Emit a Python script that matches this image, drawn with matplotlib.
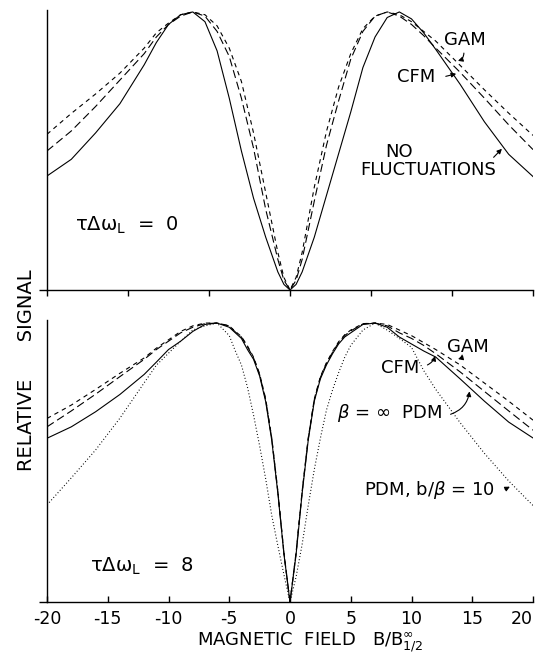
import numpy as np
import matplotlib.pyplot as plt

plt.rcParams['font.family'] = 'DejaVu Sans'
plt.rcParams['mathtext.fontset'] = 'dejavusans'
plt.rcParams['lines.scale_dashes'] = False

# upper panel: tau*dw_L = 0
x_top = [-20, -18, -16, -14, -12, -11, -10, -9, -8, -7, -6, -5, -4, -3, -2, -1, -0.5, 0,
         0.5, 1, 2, 3, 4, 5, 6, 7, 8, 9, 10, 11, 12, 14, 16, 18, 20]
top_nofluct = [0.41, 0.47, 0.565, 0.67, 0.81, 0.89, 0.955, 0.99, 1.0, 0.965, 0.86, 0.69, 0.50, 0.33, 0.19, 0.065, 0.02, 0.0,
               0.02, 0.065, 0.19, 0.34, 0.49, 0.64, 0.80, 0.91, 0.98, 1.0, 0.975, 0.925, 0.865, 0.74, 0.605, 0.488, 0.408]
top_cfm = [0.50, 0.572, 0.66, 0.755, 0.85, 0.91, 0.955, 0.985, 1.0, 0.985, 0.93, 0.84, 0.69, 0.51, 0.29, 0.11, 0.035, 0.0,
           0.035, 0.11, 0.32, 0.52, 0.68, 0.83, 0.93, 0.985, 1.0, 0.985, 0.955, 0.915, 0.87, 0.783, 0.69, 0.594, 0.505]
top_gam = [0.56, 0.635, 0.705, 0.78, 0.87, 0.925, 0.96, 0.99, 1.0, 0.99, 0.95, 0.87, 0.75, 0.565, 0.35, 0.135, 0.045, 0.0,
           0.045, 0.135, 0.37, 0.57, 0.73, 0.85, 0.94, 0.985, 1.0, 0.99, 0.965, 0.93, 0.895, 0.808, 0.72, 0.636, 0.556]

# lower panel: tau*dw_L = 8
x_bot = [-20, -18, -16, -14, -12, -11, -10, -9, -8, -7, -6, -5, -4.5, -4, -3.5, -3, -2.5, -2, -1.5, -1, -0.5, 0,
         0.5, 1, 1.5, 2, 2.5, 3, 3.5, 4, 4.5, 5, 6, 7, 8, 9, 10, 11, 12, 14, 16, 18, 20]
bot_pdm_inf = [0.587, 0.628, 0.682, 0.744, 0.816, 0.86, 0.905, 0.935, 0.97, 0.995, 1.0, 0.985, 0.965, 0.945, 0.905, 0.87, 0.81, 0.718, 0.579, 0.39, 0.172, 0.0,
               0.17, 0.39, 0.58, 0.72, 0.80, 0.85, 0.89, 0.925, 0.95, 0.965, 0.995, 1.0, 0.985, 0.95, 0.925, 0.90, 0.878, 0.80, 0.72, 0.645, 0.588]
bot_cfm = [0.628, 0.685, 0.745, 0.808, 0.87, 0.905, 0.935, 0.965, 0.985, 0.998, 1.0, 0.99, 0.968, 0.95, 0.915, 0.875, 0.815, 0.725, 0.585, 0.395, 0.175, 0.0,
           0.175, 0.395, 0.585, 0.725, 0.805, 0.855, 0.895, 0.93, 0.955, 0.972, 0.997, 1.0, 0.99, 0.965, 0.945, 0.92, 0.89, 0.825, 0.755, 0.685, 0.616]
bot_gam = [0.658, 0.706, 0.762, 0.82, 0.875, 0.91, 0.94, 0.97, 0.99, 1.0, 1.0, 0.99, 0.97, 0.952, 0.918, 0.878, 0.818, 0.728, 0.588, 0.398, 0.178, 0.0,
           0.178, 0.398, 0.588, 0.728, 0.808, 0.858, 0.898, 0.933, 0.958, 0.975, 0.998, 1.0, 0.995, 0.975, 0.955, 0.93, 0.905, 0.85, 0.785, 0.72, 0.652]
bot_pdm_b10 = [0.348, 0.445, 0.545, 0.659, 0.786, 0.849, 0.892, 0.935, 0.975, 0.99, 1.0, 0.955, 0.90, 0.85, 0.77, 0.67, 0.56, 0.441, 0.31, 0.202, 0.098, 0.0,
               0.09, 0.207, 0.346, 0.475, 0.587, 0.688, 0.76, 0.822, 0.877, 0.92, 0.975, 1.0, 0.975, 0.945, 0.913, 0.83, 0.762, 0.643, 0.533, 0.434, 0.346]

top_ticks = np.linspace(-20, 20, 7)
bot_ticks = [-20, -15, -10, -5, 0, 5, 10, 15, 20]
bot_ticklabels = ["-20", "-15", "-10", "-5", "0", "5", "10", "15", "20"]

W, H = 539, 653
fig = plt.figure(figsize=(W / 100, H / 100), dpi=100)
ax1 = fig.add_axes([47 / W, 1 - 290 / H, 486 / W, 280 / H])
ax2 = fig.add_axes([47 / W, 1 - 602 / H, 486 / W, 282 / H])

long_dash = (0, (5.8, 2.9))
short_dash = (0, (3.2, 2.9))
dots = (0, (0.7, 1.6))
lw = 0.8

ax1.plot(x_top, top_nofluct, color='black', lw=lw)
ax1.plot(x_top, top_cfm, color='black', lw=lw, linestyle=long_dash)
ax1.plot(x_top, top_gam, color='black', lw=lw, linestyle=short_dash)

ax2.plot(x_bot, bot_pdm_inf, color='black', lw=lw)
ax2.plot(x_bot, bot_cfm, color='black', lw=lw, linestyle=long_dash)
ax2.plot(x_bot, bot_gam, color='black', lw=lw, linestyle=short_dash)
ax2.plot(x_bot, bot_pdm_b10, color='black', lw=lw, linestyle=dots)

for ax, top in ((ax1, 1.007), (ax2, 1.011)):
    ax.set_xlim(-20, 20)
    ax.set_ylim(0, top)
    ax.spines['top'].set_visible(False)
    ax.spines['right'].set_visible(False)
    ax.spines['left'].set_linewidth(1.0)
    ax.spines['bottom'].set_linewidth(1.0)
    ax.set_yticks([0])
    ax.tick_params(axis='y', direction='out', length=6, width=1.0, labelleft=False)

ax1.set_xticks(top_ticks)
ax1.tick_params(axis='x', direction='out', length=4, width=1.0, labelbottom=False)
ax2.set_xticks(bot_ticks, bot_ticklabels)
ax2.tick_params(axis='x', direction='in', length=4, width=1.0, pad=6, labelsize=12.5)
ax2.get_xticklabels()[-1].set_horizontalalignment('right')

fs = 13
arrow = dict(arrowstyle='-|>', color='black', lw=0.8, mutation_scale=7)

# upper labels
ax1.text(14.4, 0.90, "GAM", fontsize=fs, ha='center', va='center')
ax1.annotate("", xy=(13.6, 0.822), xytext=(14.3, 0.862),
             arrowprops=dict(arrow, connectionstyle='arc3,rad=-0.5'))
ax1.text(10.4, 0.766, "CFM", fontsize=fs, ha='center', va='center')
ax1.annotate("", xy=(13.9, 0.78), xytext=(12.6, 0.766), arrowprops=arrow)
ax1.text(9.0, 0.496, "NO", fontsize=fs, ha='center', va='center')
ax1.text(11.4, 0.432, "FLUCTUATIONS", fontsize=fs, ha='center', va='center')
ax1.annotate("", xy=(17.6, 0.515), xytext=(16.6, 0.47), arrowprops=arrow)
ax1.text(-17.7, 0.234, r"τΔω$_{\mathrm{L}}$  =  0", fontsize=14, ha='left', va='center')

# lower labels
ax2.text(14.65, 0.914, "GAM", fontsize=fs, ha='center', va='center')
ax2.annotate("", xy=(13.6, 0.87), xytext=(14.2, 0.895),
             arrowprops=dict(arrow, connectionstyle='arc3,rad=-0.5'))
ax2.text(9.05, 0.839, "CFM", fontsize=fs, ha='center', va='center')
ax2.annotate("", xy=(12.0, 0.892), xytext=(11.1, 0.846),
             arrowprops=dict(arrow, connectionstyle='arc3,rad=0.3'))
ax2.text(8.15, 0.677, r"$\beta$ = ∞  PDM", fontsize=fs, ha='center', va='center')
ax2.annotate("", xy=(14.8, 0.765), xytext=(13.0, 0.67),
             arrowprops=dict(arrow, connectionstyle='arc3,rad=0.35'))
ax2.text(11.5, 0.401, r"PDM, b/$\beta$ = 10", fontsize=fs, ha='center', va='center')
ax2.annotate("", xy=(18.3, 0.418), xytext=(17.5, 0.40), arrowprops=arrow)
ax2.text(-16.5, 0.129, r"τΔω$_{\mathrm{L}}$  =  8", fontsize=14, ha='left', va='center')

ax2.set_xlabel(r"MAGNETIC  FIELD   B/$\mathrm{B}^{\infty}_{1/2}$", fontsize=13)
ax2.xaxis.label.set_verticalalignment('baseline')
ax2.xaxis.set_label_coords((310 - 47) / 486, -(646 - 602) / 282)

fig.text(27 / W, 1 - 370 / H, "RELATIVE      SIGNAL", rotation=90, fontsize=14,
         ha='center', va='center')

fig.savefig("out.png", dpi=100)
